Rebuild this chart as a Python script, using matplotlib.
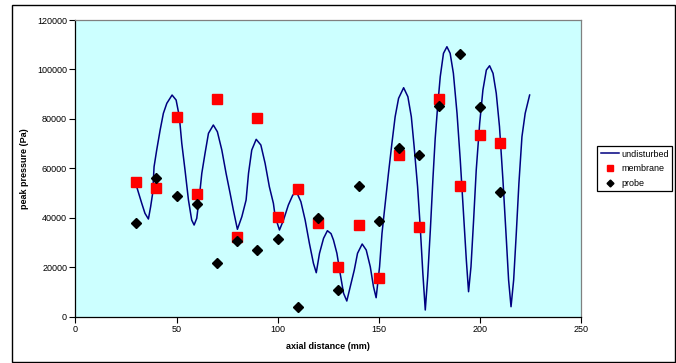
import matplotlib
matplotlib.use("Agg")
import matplotlib.pyplot as plt
from matplotlib.patches import Rectangle
from matplotlib.lines import Line2D

plt.rcParams['font.family'] = ['Liberation Sans', 'DejaVu Sans']

# undisturbed curve (axial distance mm, peak pressure Pa)
und_x = [30.3, 32.8, 34.4, 36.1, 37.2, 38.2, 38.9, 40.2, 41.9, 43.5, 45.2, 47.8, 49.8,
         51.4, 52.6, 54.2, 55.9, 57.5, 58.7, 60.0, 61.3, 62.5, 64.1, 65.8, 68.2, 70.2,
         72.4, 74.5, 76.5, 78.1, 80.1, 82.3, 84.4, 85.6, 87.2, 89.4, 91.7, 93.8, 95.9,
         97.9, 98.8, 100.9, 102.9, 105.3, 107.5, 109.5, 111.5, 113.6, 115.7, 117.7,
         119.1, 120.7, 122.7, 124.6, 126.4, 127.6, 129.3, 130.9, 132.6, 134.2, 135.9,
         137.9, 139.5, 141.8, 143.8, 145.8, 147.4, 148.7, 150.4, 151.6, 153.2, 154.8,
         156.5, 158.1, 159.8, 162.3, 164.4, 166.1, 167.5, 169.2, 170.5, 171.8, 173.0,
         174.2, 175.5, 176.8, 177.9, 179.1, 180.4, 182.0, 183.7, 185.3, 186.9, 188.7,
         190.3, 191.9, 193.3, 194.4, 195.6, 196.9, 198.2, 199.9, 201.5, 203.2, 204.8,
         206.5, 208.1, 209.7, 211.4, 213.1, 214.2, 215.4, 216.7, 218.0, 219.3, 220.8,
         222.4, 224.6]
und_y = [52570, 45860, 41810, 39510, 44480, 49900, 60660, 67410, 75500, 82250, 86300,
         89650, 87630, 80880, 70120, 59330, 47190, 39100, 37080, 39790, 48530, 57990,
         66080, 74170, 77530, 74810, 67410, 57990, 49900, 43150, 35340, 40440, 47190,
         57990, 67410, 71740, 69440, 62040, 52570, 45860, 40440, 35060, 39100, 45170,
         49210, 50150, 46500, 39100, 29680, 21590, 17790, 25640, 31700, 34780, 33600,
         31020, 25640, 17550, 9460, 6350, 12130, 18890, 25640, 29400, 26970, 20220,
         12130, 7680, 20220, 33730, 45860, 57990, 70120, 80880, 88320, 92610, 88970,
         80880, 68750, 52570, 36400, 17550, 2710, 16180, 35000, 56000, 72000, 84920,
         97060, 106520, 109190, 106520, 98430, 82250, 63370, 41810, 22930, 10110, 20220,
         39100, 59330, 78210, 91680, 99770, 101500, 98430, 90340, 76840, 55280, 31020,
         14840, 4040, 14840, 33730, 53950, 72790, 82250, 89650]

# membrane
mem_x = [30, 40, 50, 60, 70, 80, 90, 100, 110, 120, 130, 140, 150, 160, 170, 180, 190, 200, 210]
mem_y = [54350, 51900, 80880, 49620, 87900, 32350, 80350, 40440, 51500, 38000, 20200,
         36960, 15770, 65390, 36280, 88160, 52980, 73480, 70370]

# probe
prb_x = [30, 40, 50, 60, 70, 80, 90, 100, 110, 120, 130, 140, 150, 160, 170, 180, 190, 200, 210]
prb_y = [38000, 56200, 48930, 45580, 21590, 30740, 27100, 31420, 4040, 40040, 10920,
         52980, 38700, 68350, 65520, 85330, 106240, 84800, 50430]

x_ticks = [0, 50, 100, 150, 200, 250]
y_ticks = [0, 20000, 40000, 60000, 80000, 100000, 120000]

W, H = 676, 363
fig = plt.figure(figsize=(W / 100, H / 100), dpi=100)
fig.patch.set_facecolor('white')

l, r, t, b = 75.4, 581, 20, 316.7
ax = fig.add_axes([l / W, 1 - b / H, (r - l) / W, (b - t) / H])
ax.set_facecolor('#CCFFFF')

ax.plot(und_x, und_y, color='#000080', lw=1.1, label='undisturbed', zorder=3)
ax.plot(mem_x, mem_y, ls='none', marker='s', ms=7, color='#FF0000', mec='#FF0000',
        label='membrane', zorder=4)
ax.plot(prb_x, prb_y, ls='none', marker='D', ms=5, color='black', mec='black',
        label='probe', zorder=5)

ax.set_xlim(0, 250)
ax.set_ylim(0, 120000)
ax.set_xticks(x_ticks)
ax.set_yticks(y_ticks)
ax.set_xticklabels([str(v) for v in x_ticks])
ax.set_yticklabels([str(v) for v in y_ticks])
ax.tick_params(axis='both', direction='out', length=4, width=0.8, labelsize=6.5,
               colors='black', pad=2)

for s in ['left', 'bottom']:
    ax.spines[s].set_color('black')
    ax.spines[s].set_linewidth(0.9)
for s in ['top', 'right']:
    ax.spines[s].set_color('#808080')
    ax.spines[s].set_linewidth(0.9)

ax.set_xlabel('axial distance (mm)', fontsize=6.5, fontweight='bold', labelpad=6)
ax.set_ylabel('peak pressure (Pa)', fontsize=6.5, fontweight='bold', labelpad=6)

handles = [Line2D([], [], color='#000080', lw=1.1),
           Line2D([], [], ls='none', marker='s', ms=5, color='#FF0000'),
           Line2D([], [], ls='none', marker='D', ms=3.5, color='black')]
leg = fig.legend(handles, ['undisturbed', 'membrane', 'probe'],
                 loc='upper left', bbox_to_anchor=(597 / W, 1 - 146 / H),
                 bbox_transform=fig.transFigure, fontsize=6.5, frameon=True,
                 fancybox=False, edgecolor='black', framealpha=1,
                 handlelength=2.0, handletextpad=0.25, labelspacing=0.62,
                 borderpad=0.4, borderaxespad=0)
leg.get_frame().set_linewidth(0.9)

fig.patches.append(Rectangle((12 / W, 1 - 362 / H), (675 - 12) / W, (362 - 5) / H,
                             transform=fig.transFigure, fill=False,
                             edgecolor='black', lw=1.0))

fig.savefig('out.png', dpi=100)
